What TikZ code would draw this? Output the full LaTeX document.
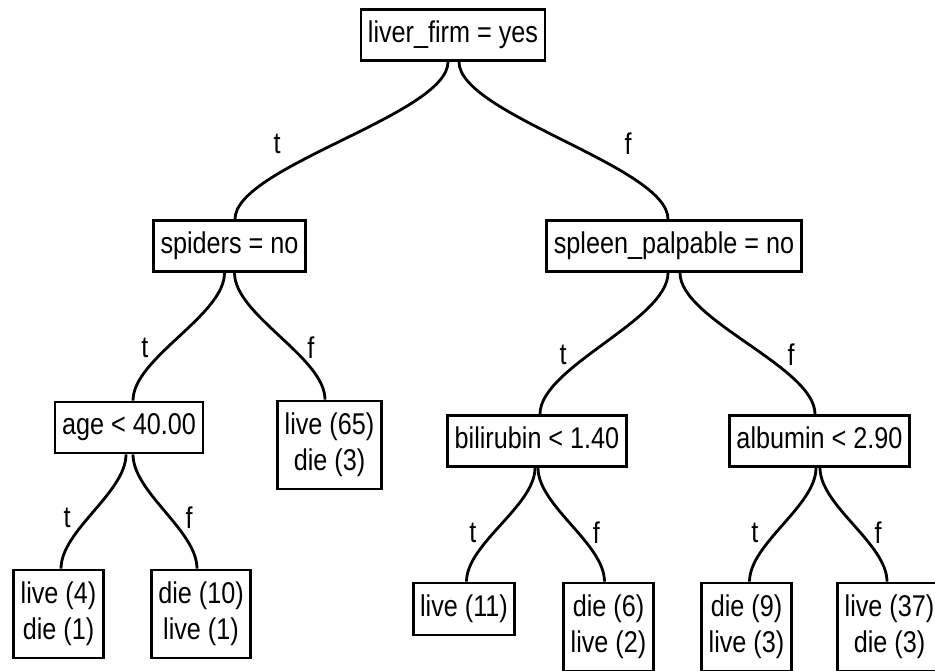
\documentclass[tikz,border=0pt]{standalone}
\usepackage{fontspec}
\setmainfont[FakeStretch=0.84]{Liberation Sans}
\usetikzlibrary{calc}
\tikzstyle{treebox} = [draw, line width=2.8pt, inner xsep=7pt, font=\fontsize{30}{36}\selectfont]
\tikzstyle{test} = [treebox, inner ysep=11pt, text height=22pt, text depth=7pt]
\tikzstyle{leaf} = [treebox, inner ysep=12pt, align=center]
\tikzstyle{branch} = [line width=2.8pt, to path={let \p1=(\tikztostart), \p2=(\tikztotarget), \n1={(\y1-\y2)/3} in .. controls (\x1,\y1-\n1) and (\x2,\y2+\n1) .. (\tikztotarget) \tikztonodes}]
\tikzstyle{branchlabel} = [inner sep=0pt, font=\fontsize{30}{36}\selectfont]
\begin{document}
\begin{tikzpicture}[x=1pt, y=1pt]
		\useasboundingbox (0,0) rectangle (935,671);
		% tests
		\node (root) [test] at (453,636) {liver\_firm = yes};
		\node (spiders) [test] at (229.5,425) {spiders = no};
		\node (spleen) [test] at (674,425) {spleen\_palpable = no};
		\node (age) [test] at (129,243.5) {age < 40.00};
		\node (bili) [test] at (537,230) {bilirubin < 1.40};
		\node (albu) [test] at (819.5,230) {albumin < 2.90};
		% leaves
		\node (live65) [leaf] at (329.5,226) {live (65)\\die (3)};
		\node (live4) [leaf] at (58.5,57) {live (4)\\die (1)};
		\node (die10) [leaf] at (201,57) {die (10)\\live (1)};
		\node (live11) [leaf] at (464,62) {live (11)};
		\node (die6) [leaf] at (608.5,44) {die (6)\\live (2)};
		\node (die9) [leaf] at (746.5,44) {die (9)\\live (3)};
		\node (live37) [leaf] at (889.5,44) {live (37)\\die (3)};
		% branches
		\draw [branch] ([xshift=-5pt]root.south) to node [branchlabel, xshift=-64.5pt, yshift=-3.5pt] {t} ([xshift=5.5pt]spiders.north);
		\draw [branch] ([xshift=6pt]root.south) to node [branchlabel, xshift=64.5pt, yshift=-3.5pt] {f} ([xshift=-6pt]spleen.north);
		\draw [branch] ([xshift=-5pt]spiders.south) to node [branchlabel, xshift=-34pt, yshift=-11.5pt] {t} ([xshift=4pt]age.north);
		\draw [branch] ([xshift=5pt]spiders.south) to node [branchlabel, xshift=31pt, yshift=-11.5pt] {f} ([xshift=-4.5pt]live65.north);
		\draw [branch] ([xshift=-6pt]spleen.south) to node [branchlabel, xshift=-41pt, yshift=-11.5pt] {t} ([xshift=3pt]bili.north);
		\draw [branch] ([xshift=6pt]spleen.south) to node [branchlabel, xshift=43.5pt, yshift=-11.5pt] {f} ([xshift=-4.5pt]albu.north);
		\draw [branch] ([xshift=-3pt]age.south) to node [branchlabel, xshift=-26.5pt, yshift=-6pt] {t} ([xshift=2.5pt]live4.north);
		\draw [branch] ([xshift=4pt]age.south) to node [branchlabel, xshift=24pt, yshift=-6pt] {f} ([xshift=-4pt]die10.north);
		\draw [branch] ([xshift=-2pt]bili.south) to node [branchlabel, xshift=-28pt, yshift=-8pt] {t} ([xshift=2.5pt]live11.north);
		\draw [branch] ([xshift=1pt]bili.south) to node [branchlabel, xshift=25pt, yshift=-8pt] {f} ([xshift=-4pt]die6.north);
		\draw [branch] ([xshift=-3.5pt]albu.south) to node [branchlabel, xshift=-28pt, yshift=-8pt] {t} ([xshift=3pt]die9.north);
		\draw [branch] ([xshift=0.5pt]albu.south) to node [branchlabel, xshift=24.5pt, yshift=-8pt] {f} ([xshift=-2.5pt]live37.north);
	\end{tikzpicture}
\end{document}
